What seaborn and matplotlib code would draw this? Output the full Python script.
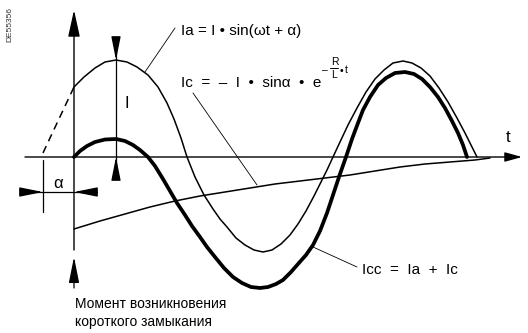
import matplotlib
matplotlib.use("Agg")
import matplotlib.pyplot as plt
import seaborn as sns

# curves: t = time from the short circuit, i = current (px units)
ia_pre_t = [-31, -24, -16, -8, 0]
ia_pre_i = [4, 19, 36, 53, 70]

ia_t = [0, 10, 21, 31, 42, 53, 63, 74, 84, 93, 100, 107, 113, 121, 130, 139, 146, 153,
        162, 171, 180, 189, 198, 207, 216, 224, 232, 240, 247, 253, 259, 266, 274, 283,
        292, 301, 310, 319, 329, 338, 347, 356, 365, 374, 383, 391, 397, 403]
ia_i = [70, 80, 89, 95, 97, 95, 90, 82, 70, 54, 38, 19, 0, -20, -38, -52, -62, -70,
        -81, -88, -93, -95, -93, -87, -78, -67, -54, -39, -25, -13, 0, 15, 32, 49,
        65, 78, 87, 94, 96, 94, 89, 81, 69, 55, 39, 24, 12, 0]

icc_t = [0, 6, 13, 21, 31, 42, 51, 59, 66, 74, 81, 89, 96, 103, 111, 118, 126, 133,
         141, 150, 159, 168, 177, 186, 194, 202, 209, 217, 224, 232, 239, 246, 253,
         259, 266, 272, 278, 284, 289, 296, 304, 312, 321, 331, 340, 348, 356, 364,
         371, 378, 384, 389, 393]
icc_i = [0, 6, 11, 15, 17.5, 18, 16, 12, 7, 0, -9, -22, -34, -46, -58, -69, -80, -90,
         -100, -111, -120, -126, -130, -131, -130, -127, -123, -115, -107, -98, -88,
         -74, -56, -38, -17, 0, 18, 34, 47, 60, 72, 79, 84, 85, 83, 78, 70, 60,
         49, 36, 24, 12, 0]

ic_t = [0, 26, 51, 76, 101, 126, 151, 176, 201, 226, 251, 276, 301, 326, 351, 376, 401, 416]
ic_i = [-72, -64, -57, -50, -44, -39, -35, -31, -27, -24, -21, -18, -14, -10, -7, -5, -3, -1]

ia_label = "Ia = I • sin(ωt + α)"
ic_label = "Ic  =  –  I  •  sinα  •  e"
icc_label = "Icc  =  Ia  +  Ic"
moment_label = "Момент возникновения\nкороткого замыкания"

sns.set_theme(style="white")
plt.rcParams["font.family"] = ["Liberation Sans Narrow", "Liberation Sans", "DejaVu Sans"]

fig = plt.figure(figsize=(5.28, 3.33), dpi=100)
ax = fig.add_axes([0, 0, 1, 1])
ax.set_xlim(-74, 454)
ax.set_ylim(-176, 157)
ax.axis("off")

k = "black"

# curves
sns.lineplot(x=ia_pre_t, y=ia_pre_i, ax=ax, color=k, lw=1.1, linestyle=(0, (5, 3.5)))
sns.lineplot(x=ia_t, y=ia_i, ax=ax, color=k, lw=1.1)
sns.lineplot(x=icc_t, y=icc_i, ax=ax, color=k, lw=2.7)
sns.lineplot(x=ic_t, y=ic_i, ax=ax, color=k, lw=1.1)


def arrow(tip, tail, hl=1.8, hw=0.36, lw=0.9):
    ax.annotate("", xy=tip, xytext=tail,
                arrowprops=dict(arrowstyle=f"-|>,head_length={hl},head_width={hw}",
                                color=k, lw=lw, mutation_scale=8,
                                shrinkA=0, shrinkB=0))


# axes with arrows
arrow((448, 0), (-49, 0), hl=1.3, hw=0.36, lw=1.0)
arrow((0, 147), (0, -93), hl=2.05, hw=0.45, lw=1.0)

# peak marker I
ax.plot([42, 42], [119, -20], color=k, lw=0.9)
arrow((42, 97), (42, 119))
arrow((42, 0), (42, -20))

# alpha dimension
ax.plot([-31, -31], [-3, -55], color=k, lw=0.9)
ax.plot([-52, 23], [-35, -35], color=k, lw=0.9)
arrow((-31, -35), (-52, -35))
arrow((0, -35), (23, -35))

# moment arrow
arrow((0, -100), (0, -131), hl=2.0, hw=0.4)

# leaders
ax.plot([101, 71], [129, 85], color=k, lw=0.6)
ax.plot([119, 183], [64, -28], color=k, lw=0.6)
ax.plot([239, 283], [-90, -110], color=k, lw=0.6)

fs = 11
ax.text(107, 126, ia_label, fontsize=fs, va="center", ha="left", color=k)
t_ic = ax.text(107, 74, ic_label, fontsize=fs, va="center", ha="left", color=k)
ax.text(288, -113, icc_label, fontsize=fs, va="center", ha="left", color=k)
ax.text(434, 20, "t", fontsize=fs + 1, va="center", ha="center", color=k)
ax.text(53, 54, "I", fontsize=fs + 1, va="center", ha="center", color=k)
ax.text(-16, -26, "α", fontsize=fs + 1, va="center", ha="center", color=k)
ax.text(1, -156, moment_label, fontsize=10, va="center", ha="left",
        color=k, linespacing=1.35)
ax.text(-64, 132, "DE55356", fontsize=6, rotation=90, va="center", ha="center", color="#333333")

# exponent of e placed after the Ic text
fig.canvas.draw()
bb = t_ic.get_window_extent(fig.canvas.get_renderer())
x_end = ax.transData.inverted().transform((bb.x1, 0))[0]
sfs = 7.5
ax.text(x_end + 4, 87, "–", fontsize=sfs, va="center", ha="center", color=k)
ax.text(x_end + 13, 95, "R", fontsize=sfs, va="center", ha="center", color=k)
ax.plot([x_end + 9, x_end + 17], [89, 89], color=k, lw=0.7)
ax.text(x_end + 13, 82, "L", fontsize=sfs, va="center", ha="center", color=k)
ax.text(x_end + 20, 86, "•", fontsize=sfs, va="center", ha="center", color=k)
ax.text(x_end + 25, 87, "t", fontsize=sfs, va="center", ha="center", color=k)

fig.savefig("out.png", dpi=100)
